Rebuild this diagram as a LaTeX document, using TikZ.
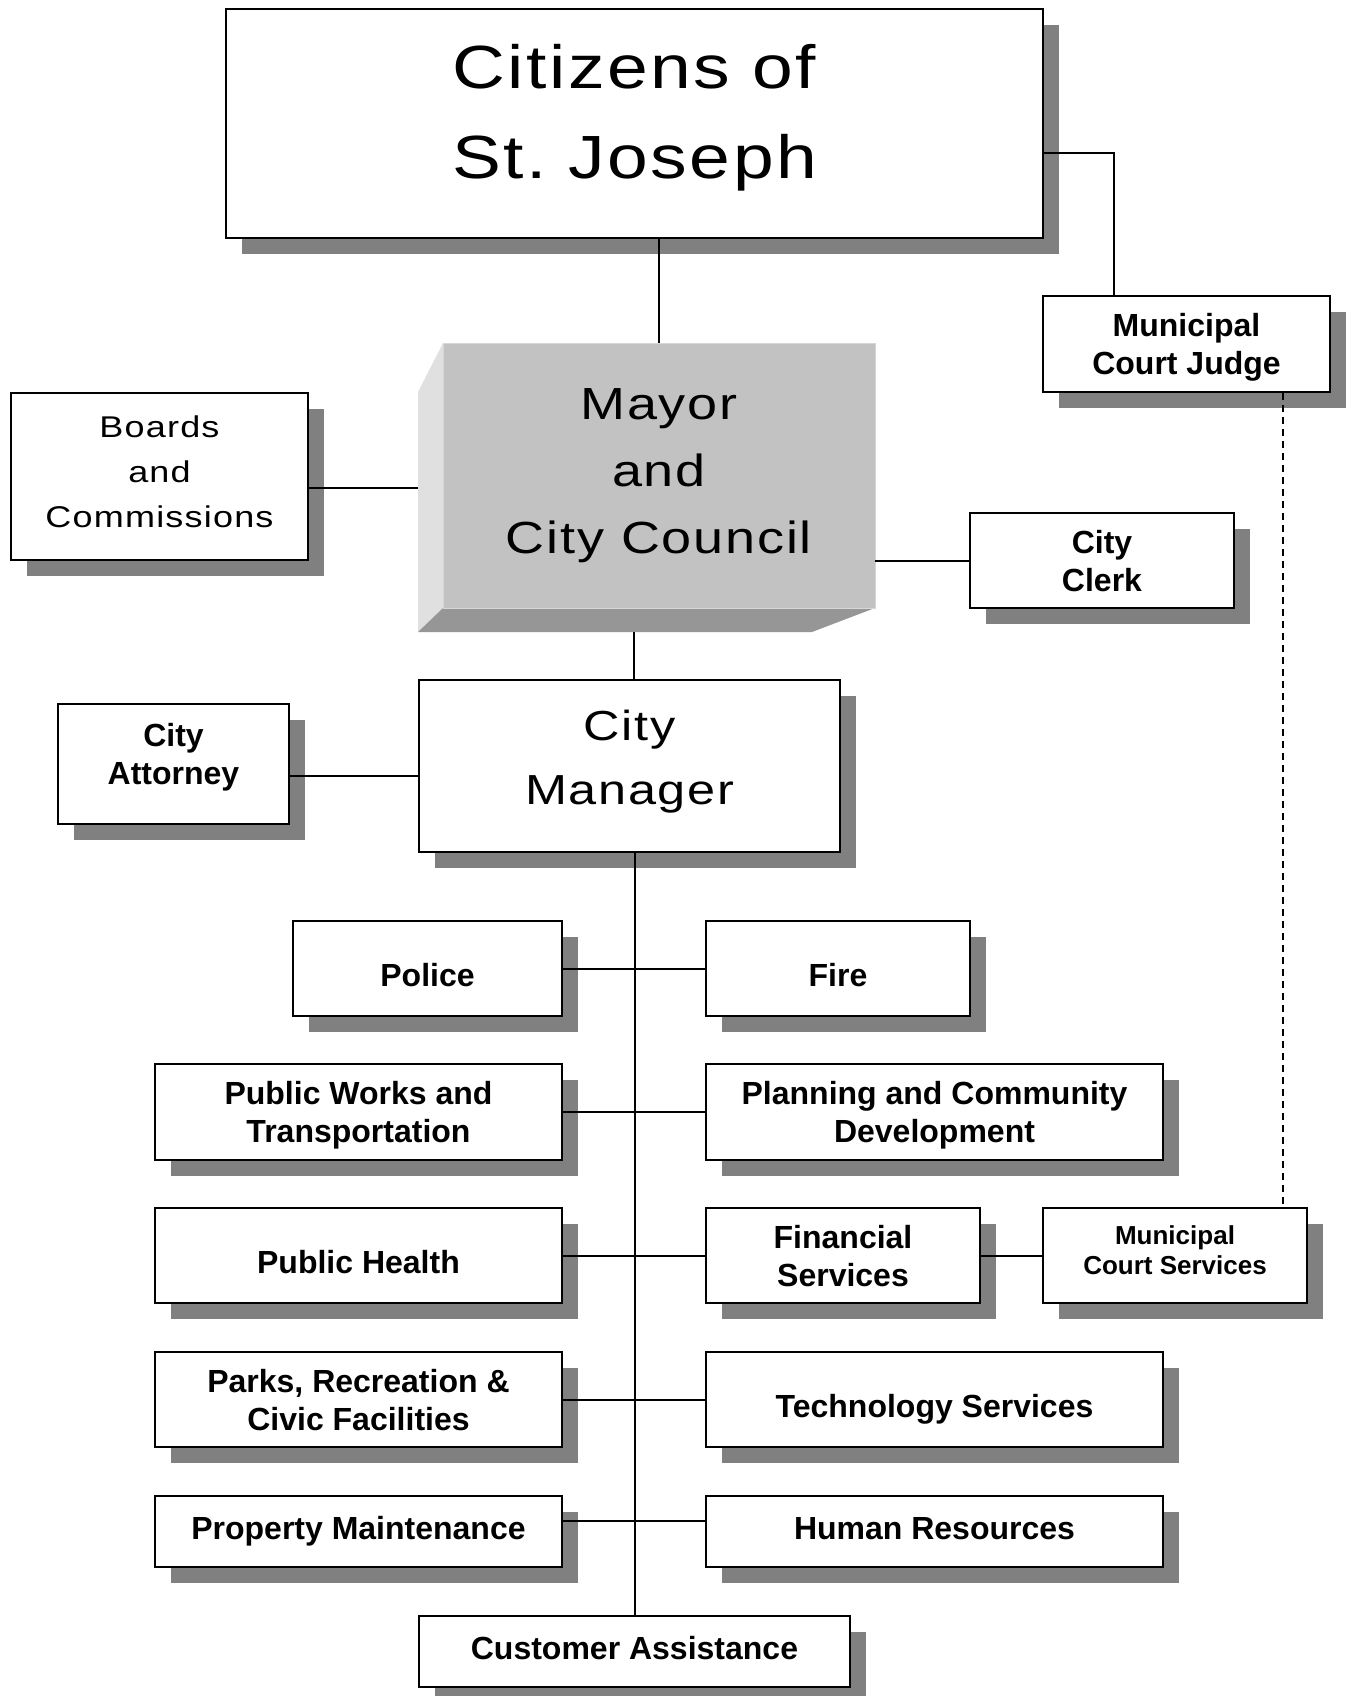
\documentclass[tikz,border=0pt]{standalone}
\usepackage{fontspec}
\setmainfont{Liberation Sans}
\newfontfamily\widefont[FakeStretch=1.2,LetterSpace=4]{Liberation Sans}
\usetikzlibrary{shadows}
\definecolor{shadowgray}{RGB}{128,128,128}
\definecolor{faceA}{RGB}{194,194,194}
\definecolor{faceB}{RGB}{224,224,224}
\definecolor{faceC}{RGB}{150,150,150}
\begin{document}
\begin{tikzpicture}[x=1pt,y=-1pt,line join=miter,
	box/.style={draw,fill=white,line width=2pt,rectangle,inner sep=0pt,align=center,
		drop shadow={shadow xshift=16pt,shadow yshift=-16pt,fill=shadowgray,opacity=1}},
	link/.style={line width=2pt}]
	\tikzset{dept/.style={font=\bfseries\fontsize{32}{38}\selectfont,text depth=0pt},
		tall/.style={text height=36pt,text depth=0pt},
		low/.style={text height=23pt,text depth=8pt}}
	\useasboundingbox (0,0) rectangle (1351,1696);
	% top of the chart
	\node[box,font=\widefont\fontsize{61}{90}\selectfont,text depth=24pt,minimum width=817,minimum height=229] (citizens) at (634.5,123.5) {Citizens of\\St.\hspace{-8pt} Joseph};
	\node[box,dept,minimum width=287,minimum height=96] (judge) at (1186.5,344) {Municipal\\Court Judge};
	\node[box,font=\widefont\fontsize{30}{45}\selectfont,text depth=9pt,minimum width=297,minimum height=167] (boards) at (159.5,476.5) {Boards\\and\\Commissions};
	% raised block for the council
	\fill[faceA] (443,343) rectangle (875,608);
	\fill[faceB] (443,343)--(418,392)--(418,632)--(443,608)--cycle;
	\fill[faceC] (443,608)--(418,632)--(812,632)--(875,608)--cycle;
	\draw[faceB!70!faceA,line width=1pt] (443,343) rectangle (875,608);
	\node[minimum width=432,minimum height=265,align=center,font=\widefont\fontsize{45}{67}\selectfont] (mayor) at (659,475.5) {Mayor\\and\\City Council};
	\coordinate (mayorleft) at (418,488);
	\coordinate (mayorbase) at (634,632);
	\node[box,dept,minimum width=264,minimum height=95] (clerk) at (1102,560.5) {City\\Clerk};
	\node[box,dept,text depth=20pt,minimum width=231,minimum height=120] (attorney) at (173.5,764) {City\\Attorney};
	\node[box,font=\widefont\fontsize{42}{64}\selectfont,text depth=17pt,minimum width=421,minimum height=172] (manager) at (629.5,766) {City\\Manager};
	% departments
	\node[box,dept,tall,minimum width=269,minimum height=95] (police) at (427.5,968.5) {Police};
	\node[box,dept,tall,minimum width=264,minimum height=95] (fire) at (838,968.5) {Fire};
	\node[box,dept,minimum width=407,minimum height=96] (works) at (358.5,1112) {Public Works and\\Transportation};
	\node[box,dept,minimum width=457,minimum height=96] (planning) at (934.5,1112) {Planning and Community\\Development};
	\node[box,dept,tall,minimum width=407,minimum height=95] (health) at (358.5,1255.5) {Public Health};
	\node[box,dept,minimum width=274,minimum height=95] (finance) at (843,1255.5) {Financial\\Services};
	\node[box,font=\bfseries\fontsize{26}{30}\selectfont,text depth=10pt,minimum width=264,minimum height=95] (courtsvc) at (1175,1255.5) {Municipal\\Court Services};
	\node[box,dept,minimum width=407,minimum height=95] (parks) at (358.5,1399.5) {Parks, Recreation \&\\Civic Facilities};
	\node[box,dept,tall,minimum width=457,minimum height=95] (tech) at (934.5,1399.5) {Technology Services};
	\node[box,dept,low,minimum width=407,minimum height=71] (property) at (358.5,1531.5) {Property Maintenance};
	\node[box,dept,low,minimum width=457,minimum height=71] (hr) at (934.5,1531.5) {Human Resources};
	\node[box,dept,low,minimum width=431,minimum height=71] (customer) at (634.5,1651.5) {Customer Assistance};
	% connectors
	\coordinate (cj) at (1114,153);
	\coordinate (dashx) at (1283,0);
	\draw[link] (citizens.east |- cj) -| (judge.north -| cj);
	\draw[link] (mayor.north |- citizens.south) -- (mayor.north);
	\draw[link] (boards.east |- mayorleft) -- (mayorleft);
	\draw[link] (mayor.east |- clerk.west) -- (clerk.west);
	\draw[link] (mayorbase) -- (mayorbase |- manager.north);
	\draw[link] ([yshift=-12pt]attorney.east) -- ([yshift=-12pt]attorney.east -| manager.west);
	\draw[link] (manager.south -| customer.north) -- (customer.north);
	\draw[link] (police.east) -- (fire.west);
	\draw[link] (works.east) -- (planning.west);
	\draw[link] (health.east) -- (finance.west) (finance.east) -- (courtsvc.west);
	\draw[link] (parks.east) -- (tech.west);
	\draw[link] ([yshift=11pt]property.east) -- ([yshift=11pt]hr.west);
	\draw[link,dash pattern=on 7pt off 5pt,line width=1.5pt] (judge.south -| dashx) -- (courtsvc.north -| dashx);
\end{tikzpicture}
\end{document}
